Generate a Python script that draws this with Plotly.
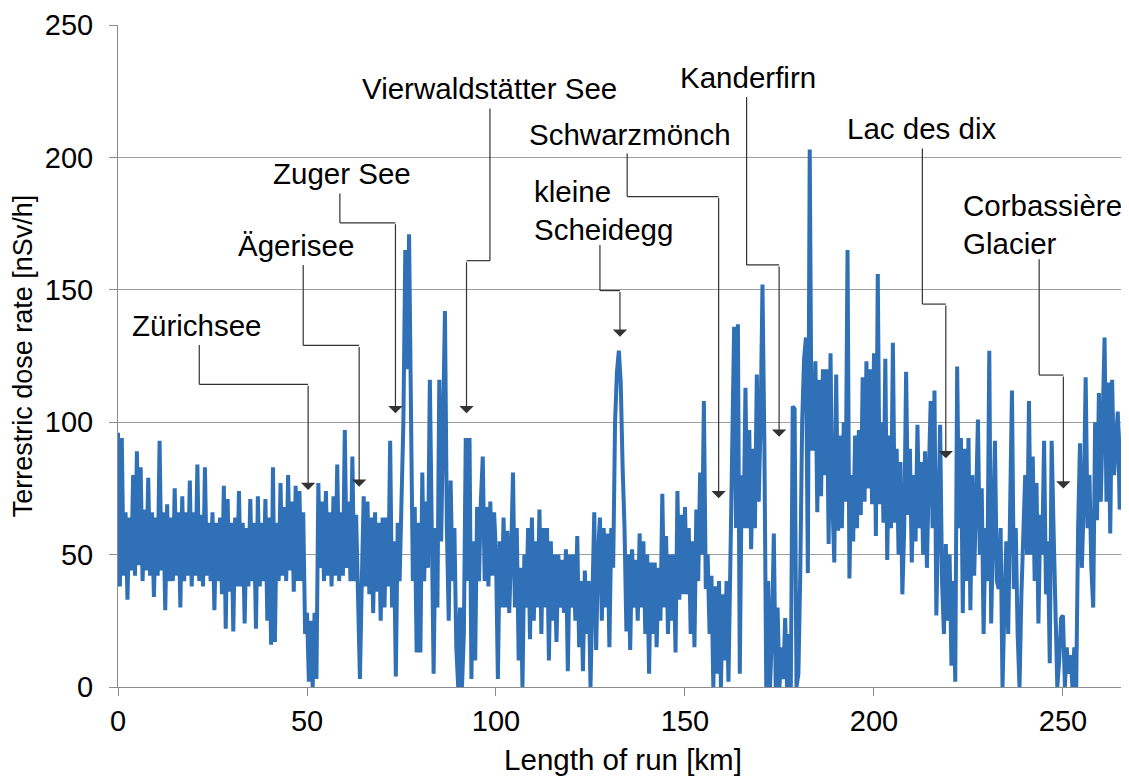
import numpy as np
import plotly.graph_objects as go

# ---------------- data, one sample every 0.5 km ----------------
STEP_KM = 0.5
dose_000_050 = [96, 38, 94, 42, 66, 33, 64, 44, 80, 42, 89, 46, 83, 40, 67, 44, 79, 42, 66, 34,
                64, 42, 93, 44, 66, 29, 69, 40, 64, 40, 75, 42, 66, 30, 72, 40, 66, 42, 78, 38,
                66, 42, 84, 40, 65, 38, 83, 42, 62, 40, 66, 29, 62, 40, 64, 35, 76, 22, 71, 36,
                62, 21, 64, 38, 74, 38, 62, 24, 60, 38, 71, 40, 62, 22, 72, 38, 62, 40, 71, 25,
                64, 16, 83, 17, 62, 40, 77, 42, 68, 40, 80, 44, 70, 36, 76, 40, 74, 40, 66, 20]
dose_050_100 = [28, 2, 25, 0, 28, 3, 77, 45, 70, 40, 74, 42, 66, 38, 72, 42, 84, 40, 66, 42,
                97, 45, 70, 40, 87, 40, 65, 30, 3, 40, 72, 38, 70, 35, 64, 28, 66, 36, 62, 25,
                64, 30, 64, 38, 93, 30, 55, 4, 62, 40, 68, 100, 165, 120, 171, 98, 40, 68, 13, 62,
                13, 81, 40, 70, 45, 116, 45, 5, 60, 30, 116, 55, 100, 142, 60, 25, 78, 40, 60, 15,
                0, 30, 0, 20, 94, 40, 94, 3, 55, 10, 68, 40, 70, 87, 40, 68, 38, 70, 42, 66]
dose_100_150 = [50, 3, 55, 30, 64, 30, 59, 28, 50, 81, 30, 60, 10, 45, 0, 50, 30, 60, 18, 64,
                25, 55, 30, 67, 20, 60, 30, 60, 10, 55, 25, 50, 17, 50, 30, 48, 28, 52, 6, 50,
                30, 50, 25, 57, 15, 40, 6, 44, 20, 40, 0, 30, 66, 14, 50, 64, 25, 60, 30, 58,
                15, 60, 45, 100, 119, 127, 115, 83, 60, 21, 50, 14, 52, 30, 48, 25, 58, 30, 55, 20,
                50, 5, 47, 20, 47, 15, 45, 25, 73, 30, 57, 20, 50, 25, 50, 13, 74, 33, 65, 35]
dose_150_200 = [68, 35, 60, 20, 55, 15, 67, 40, 81, 50, 108, 37, 50, 20, 42, 0, 38, 5, 40, 0,
                35, 10, 40, 2, 40, 85, 136, 60, 137, 5, 80, 60, 113, 60, 97, 52, 90, 60, 118, 70,
                100, 152, 92, 0, 40, 0, 20, 58, 0, 30, 0, 15, 3, 26, 0, 20, 0, 106, 105, 0,
                5, 43, 100, 124, 132, 43, 203, 90, 90, 123, 66, 116, 72, 120, 80, 120, 54, 126, 70, 47,
                118, 59, 95, 60, 100, 70, 165, 41, 80, 55, 95, 60, 97, 65, 117, 70, 123, 75, 120, 69]
dose_200_250 = [126, 57, 156, 69, 100, 62, 124, 48, 95, 60, 130, 62, 90, 50, 85, 35, 60, 119, 65, 90,
                47, 80, 55, 99, 60, 85, 50, 89, 45, 80, 108, 60, 112, 27, 70, 99, 40, 20, 54, 25,
                50, 8, 40, 2, 121, 60, 94, 28, 90, 40, 94, 29, 80, 42, 70, 101, 50, 75, 20, 60,
                40, 127, 24, 60, 93, 40, 37, 60, 0, 30, 55, 20, 80, 112, 37, 60, 20, 0, 35, 60,
                80, 50, 108, 50, 87, 40, 77, 24, 65, 50, 93, 35, 55, 9, 93, 60, 20, 0, 10, 26]
dose_250_267 = [27, 0, 15, 5, 12, 0, 15, 0, 60, 92, 45, 70, 117, 60, 80, 45, 30, 100, 63, 111,
                70, 100, 132, 70, 115, 58, 116, 80, 90, 104, 67, 90, 106, 52, 55]

x_ticks = [0, 50, 100, 150, 200, 250]
y_ticks = [0, 50, 100, 150, 200, 250]

# site labels: text, text anchor point (km, nSv/h), connector corner points, arrow tip
site_names = ["Zürichsee", "Ägerisee", "Zuger See", "Vierwaldstätter See", "kleine<br>Scheidegg",
              "Schwarzmönch", "Kanderfirn", "Lac des dix", "Corbassière<br>Glacier"]
label_pos = [(20.9, 136.7, "center"), (47.1, 166.9, "center"), (59.3, 194.1, "center"),
             (98.4, 226.2, "center"), (109.6, 180.0, "left"), (135.4, 208.5, "center"),
             (166.7, 230.0, "center"), (212.7, 211.1, "center"), (223.0, 174.5, "left")]
connectors = [
    [(21.5, 129.2), (21.5, 114.3), (50.3, 114.3), (50.3, 74.4)],
    [(49.0, 159.4), (49.0, 129.0), (63.8, 129.0), (63.8, 75.6)],
    [(58.7, 186.4), (58.7, 175.3), (73.4, 175.3), (73.4, 103.4)],
    [(98.4, 218.5), (98.4, 161.0), (92.2, 161.0), (92.2, 103.4)],
    [(127.5, 166.9), (127.5, 149.7), (132.8, 149.7), (132.8, 132.3)],
    [(134.7, 201.5), (134.7, 185.2), (158.9, 185.2), (158.9, 71.3)],
    [(166.3, 222.8), (166.3, 159.4), (174.9, 159.4), (174.9, 94.5)],
    [(212.8, 203.4), (212.8, 144.6), (219.0, 144.6), (219.0, 86.4)],
    [(243.7, 161.5), (243.7, 117.8), (250.1, 117.8), (250.1, 75.0)],
]

# ---------------- figure ----------------
dose = dose_000_050 + dose_050_100 + dose_100_150 + dose_150_200 + dose_200_250 + dose_250_267
km = np.arange(len(dose)) * STEP_KM

FONT = "Liberation Sans, Arial, sans-serif"
LINE_BLUE = "#3070B6"
AXIS_GREY = "#8C8C8C"
CONN = "#333333"

fig = go.Figure()
fig.add_trace(go.Scatter(x=km, y=dose, mode="lines",
                         line=dict(color=LINE_BLUE, width=4),
                         hoverinfo="skip", showlegend=False))

shapes = []
annotations = []
for name, (tx, ty, anc), pts in zip(site_names, label_pos, connectors):
    annotations.append(dict(x=tx, y=ty, xref="x", yref="y", text=name, showarrow=False,
                            xanchor=anc, yanchor="middle", align="left",
                            font=dict(family=FONT, size=29.5, color="#000000")))
    for (xa, ya), (xb, yb) in zip(pts[:2], pts[1:3]):
        shapes.append(dict(type="line", xref="x", yref="y", x0=xa, y0=ya, x1=xb, y1=yb,
                           line=dict(color=CONN, width=1.2)))
    (cx, cy), (px, py) = pts[2], pts[3]
    annotations.append(dict(x=px, y=py, xref="x", yref="y", ax=cx, ay=cy,
                            axref="x", ayref="y", text="", showarrow=True,
                            arrowhead=1, arrowsize=2.0, arrowwidth=1.2, arrowcolor=CONN,
                            standoff=0, startstandoff=0))

# the page body adds an 8 px offset, so the figure is 8 px smaller and margins shifted
fig.update_layout(
    width=1121, height=768,
    margin=dict(l=110, r=1, t=17, b=89),
    paper_bgcolor="white", plot_bgcolor="white",
    font=dict(family=FONT, size=29, color="#000000"),
    shapes=shapes, annotations=annotations,
    showlegend=False,
)
fig.update_xaxes(range=[0, 267.2], tickvals=x_ticks, ticktext=[str(v) for v in x_ticks],
                 showgrid=False, zeroline=False, showline=True, linecolor=AXIS_GREY, linewidth=1,
                 ticks="outside", ticklen=8, tickcolor=AXIS_GREY, tickwidth=1,
                 tickfont=dict(family=FONT, size=29, color="#000000"),
                 title=dict(text="Length of run [km]", standoff=16,
                            font=dict(family=FONT, size=29.5, color="#000000")),
                 automargin=False)
fig.update_yaxes(range=[0, 250], tickvals=y_ticks, ticktext=[str(v) for v in y_ticks],
                 showgrid=True, gridcolor="#9E9E9E", gridwidth=1, zeroline=False,
                 showline=True, linecolor=AXIS_GREY, linewidth=1,
                 ticks="outside", ticklen=8, tickcolor=AXIS_GREY, tickwidth=1,
                 ticklabelstandoff=10,
                 tickfont=dict(family=FONT, size=29, color="#000000"),
                 title=dict(text="Terrestric dose rate [nSv/h]", standoff=12,
                            font=dict(family=FONT, size=27, color="#000000")),
                 automargin=False)

fig.write_html("out.html")
